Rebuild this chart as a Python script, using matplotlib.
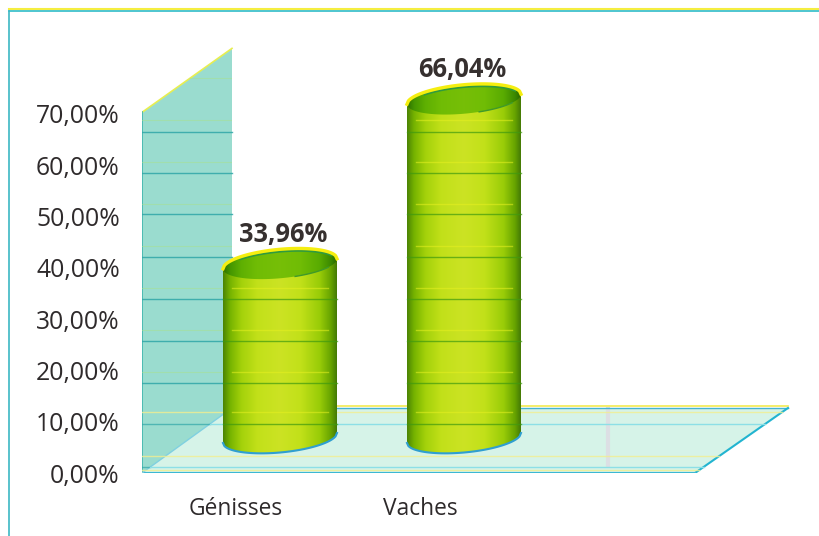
import matplotlib
matplotlib.use("Agg")
import matplotlib.pyplot as plt
import numpy as np
from matplotlib.patches import PathPatch, Polygon
from matplotlib.path import Path

plt.rcParams["font.family"] = ["Open Sans", "DejaVu Sans"]

categories = ["Génisses", "Vaches"]
values = [33.96, 66.04]
value_labels = ["33,96%", "66,04%"]
y_ticks = [0, 10, 20, 30, 40, 50, 60, 70]
y_tick_labels = ["0,00%", "10,00%", "20,00%", "30,00%", "40,00%", "50,00%", "60,00%", "70,00%"]

# picture size and scale of the axes, in pixels
W, H = 819, 536
PX_Y = 5.13   # pixels for one percent
PX_X = 184    # pixels between categories
X0 = 236      # pixel of first category label
Y0 = 473      # pixel of 0 %
LEFT = 142

# horizontal scan lines of the print, in pixels from the top
dark_lines = [132, 173, 214, 257, 299, 341, 383, 424, 467]
light_lines = [78, 120, 162, 204, 246, 288, 330, 372, 412, 456, 470]
# the value labels do not sit exactly over the bars
label_shift = [3.5, -1.5]

fig = plt.figure(figsize=(W / 100, H / 100), dpi=100)
ax = fig.add_axes([LEFT / W, (H - Y0) / H, (W - LEFT) / W, Y0 / H])
ax.set_xlim((LEFT - X0) / PX_X, (W - X0) / PX_X)
ax.set_ylim(0, Y0 / PX_Y)
for s in ax.spines.values():
    s.set_visible(False)


def dx(px):
    return px / PX_X


def dy(px):
    return px / PX_Y


def py(pixel):
    return (Y0 - pixel) / PX_Y


x_left = (LEFT - X0) / PX_X
x_back = x_left + dx(90)
x_right = x_left + dx(553)
depth = dy(65)
y_top = 70.3

wall = Polygon([(x_left, 0), (x_back, depth), (x_back, y_top + dy(64)), (x_left, y_top)],
               closed=True, fc="#9adccf", ec="none", zorder=1, clip_on=False)
ax.add_patch(wall)
ax.plot([x_left, x_back], [y_top, y_top + dy(64)], color="#e8ee50", lw=1.2, zorder=2)
ax.plot([x_left, x_left], [0, y_top], color="#3fb6ae", lw=1.2, zorder=2)

floor = Polygon([(x_left, 0), (x_right, 0), (x_right + dx(93), depth), (x_back, depth)],
                closed=True, fc="#d6f3e8", ec="none", zorder=1.5)
ax.add_patch(floor)
ax.plot([x_back, x_right + dx(93)], [depth + dy(2)] * 2, color="#f4ea50", lw=1.2, zorder=2)
ax.plot([x_back, x_right + dx(93)], [depth] * 2, color="#45b4d0", lw=1, zorder=2)
ax.plot([x_right, x_right + dx(93)], [0, depth], color="#22b4d0", lw=1.5, zorder=2)
ax.plot([x_left, x_right], [0, 0], color="#3cb8d4", lw=1.5, zorder=2)
ax.plot([x_left, x_back], [0, depth], color="#7fd0e0", lw=1, zorder=2)
# grey smudge on the floor
ax.plot([x_left + dx(466)] * 2, [py(465), py(409)], color="#dcdfe4", lw=3, zorder=1.8)

# scan lines over wall and floor
for p in dark_lines:
    y = py(p)
    if p < Y0 - 65:
        ax.plot([x_left, x_back], [y, y], color="#2fa6a8", lw=1, alpha=0.85, zorder=2)
    else:
        x_diag = x_left + dx(90) * (y / depth)
        ax.plot([x_left, x_diag], [y, y], color="#2fa6a8", lw=1, alpha=0.7, zorder=2)
        ax.plot([x_diag, x_right + dx(93) * (y / depth)], [y, y], color="#8ddfe6", lw=1, zorder=2)
for p in light_lines:
    y = py(p)
    if p < Y0 - 65:
        line, = ax.plot([x_left, x_back], [y, y], color="#a8e08c", lw=0.8, alpha=0.5, zorder=2)
        line.set_clip_path(wall)
    elif p > 410:
        ax.plot([x_left, x_right + dx(93) * (y / depth)], [y, y], color="#f2ee90", lw=1, alpha=0.8, zorder=2)

# cylinders
half_w = 57
half_h = 14.5
tilt = 5
green = np.array([[0.30, 0.52, 0.02], [0.46, 0.70, 0.0], [0.64, 0.82, 0.04], [0.76, 0.88, 0.10],
                  [0.80, 0.89, 0.14], [0.76, 0.88, 0.10], [0.60, 0.80, 0.03], [0.40, 0.64, 0.0],
                  [0.27, 0.48, 0.02]])
pos = np.array([0, 0.06, 0.16, 0.3, 0.5, 0.68, 0.85, 0.95, 1])
t = np.linspace(0, 1, 200)
grad = np.stack([np.interp(t, pos, green[:, i]) for i in range(3)], axis=1)[None, :, :]
grad_top = grad * np.array([0.58, 0.84, 0.2])
a = np.linspace(-1, 1, 80)
arc = np.sqrt(1 - a ** 2)

for i, (v, lab) in enumerate(zip(values, value_labels)):
    cx = i + dx(44)
    base = dy(35)
    top = base + v
    w = dx(half_w)
    xs = cx + a * w
    low = base + dy(tilt) * a - dy(half_h) * arc
    top_back = top + dy(tilt) * a + dy(half_h) * arc
    top_front = top + dy(tilt) * a - dy(half_h) * arc

    verts = list(zip(xs, low)) + [(cx + w, top + dy(tilt)), (cx - w, top - dy(tilt))]
    body = Path(verts + [verts[0]], closed=True)
    im = ax.imshow(grad, extent=[cx - w, cx + w, base - dy(20), top + dy(10)], aspect="auto", zorder=3)
    im.set_clip_path(PathPatch(body, transform=ax.transData))
    ax.plot(xs, low, color="#2f9fd0", lw=1.5, zorder=3.1)
    for p in dark_lines:
        y = py(p)
        if base - dy(8) < y < top:
            ax.plot([cx - w, cx + w], [y, y], color="#3f9a10", lw=1, alpha=0.7, zorder=3.2)
    for p in light_lines:
        y = py(p)
        if base - dy(8) < y < top:
            ax.plot([cx - w * 0.85, cx + w * 0.85], [y, y], color="#e6f020", lw=1, alpha=0.55, zorder=3.2)

    # top face, its front edge only shows on the right
    face_verts = list(zip(xs, top_front)) + list(zip(xs[::-1], top_back[::-1]))
    face = Path(face_verts + [face_verts[0]], closed=True)
    im_top = ax.imshow(grad_top, extent=[cx - w, cx + w, top - dy(25), top + dy(25)], aspect="auto", zorder=3.4)
    im_top.set_clip_path(PathPatch(face, transform=ax.transData))
    ax.plot(xs[50:74], top_front[50:74], color="#3f9a2a", lw=1, zorder=3.5)
    ax.plot(xs[12:76], top_back[12:76] - dy(2.5), color="#2f9a40", lw=1.2, zorder=3.5)
    ax.plot(xs, top_back, color="#f5ee10", lw=2.4, zorder=3.6)
    ax.text(cx + dx(label_shift[i]), top + dy(16), lab, ha="center", va="bottom", fontsize=18.4,
            fontweight="bold", color="#36302f", zorder=5)

ax.set_xlim((LEFT - X0) / PX_X, (W - X0) / PX_X)
ax.set_ylim(0, Y0 / PX_Y)
ax.set_yticks(y_ticks)
ax.set_yticklabels(y_tick_labels, fontsize=17.8, color="#2e2a2b")
ax.set_xticks(range(len(categories)))
ax.set_xticklabels(categories, fontsize=16.4, color="#2e2a2b")
ax.tick_params(axis="both", length=0)
ax.tick_params(axis="y", pad=16)
ax.tick_params(axis="x", pad=17)
ax.patch.set_visible(False)

# thin frame of the picture
fig.add_artist(plt.Line2D([8.5 / W, 1], [1 - 9 / H, 1 - 9 / H], color="#f5ee40", lw=1.5))
fig.add_artist(plt.Line2D([8.5 / W, 1], [1 - 11 / H, 1 - 11 / H], color="#30bcc8", lw=1.2))
fig.add_artist(plt.Line2D([8.5 / W, 8.5 / W], [0, 1 - 11 / H], color="#3cb8c4", lw=1.2))

fig.savefig("out.png", dpi=100)
